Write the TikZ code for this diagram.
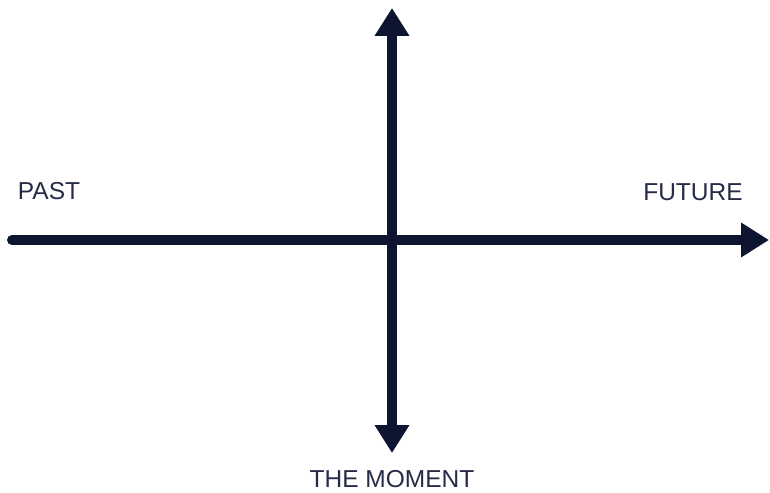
\documentclass[tikz,border=0pt]{standalone}
\usepackage{fontspec}
\setmainfont{Liberation Sans}
\usetikzlibrary{arrows.meta}
\definecolor{navy}{HTML}{0E1530}
\begin{document}
\begin{tikzpicture}[x=1pt,y=-1pt,
  axis/.style={draw=navy,line width=10pt,-{Triangle[length=28pt,width=33pt]}},
  lbl/.style={text=navy!90!white,font=\fontsize{24.5}{28}\selectfont,inner sep=0pt}]
\useasboundingbox (0,0) rectangle (770,492);
\coordinate (L) at (12,240);
\coordinate (R) at (769,240);
\coordinate (T) at (392,8);
\coordinate (B) at (392,453);
\draw[axis,line cap=round] (L) -- (R);
\draw[axis,{Triangle[length=28pt,width=33pt]}-{Triangle[length=28pt,width=33pt]}] (B) -- (T);
\node[lbl] (past) at (49,191) {PAST};
\node[lbl] (future) at (693,192) {FUTURE};
\node[lbl] (moment) at (392,479.5) {THE MOMENT};
\end{tikzpicture}
\end{document}
